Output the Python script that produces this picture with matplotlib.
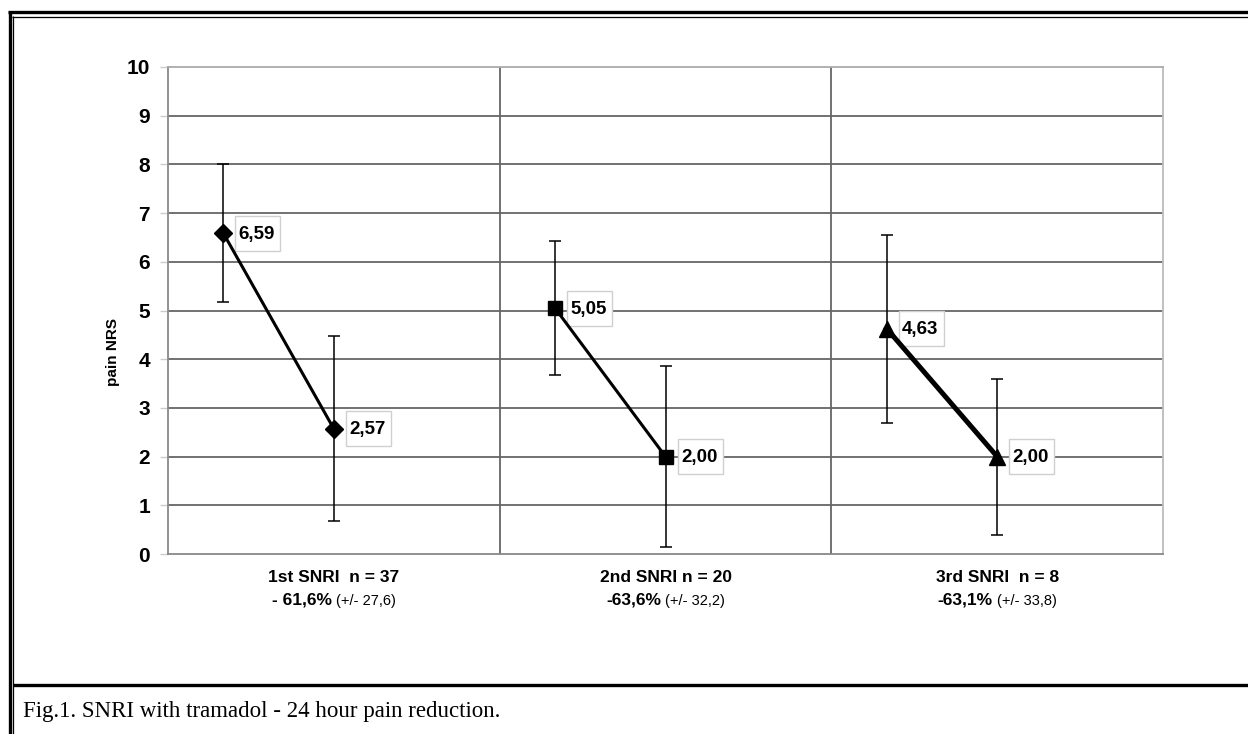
import matplotlib.pyplot as plt
import matplotlib.transforms as mtransforms
from matplotlib.patches import Rectangle
from matplotlib.lines import Line2D
from matplotlib.offsetbox import TextArea, HPacker, AnnotationBbox

# data
groups = ['1st SNRI  n = 37', '2nd SNRI n = 20', '3rd SNRI  n = 8']
reductions = ['- 61,6%', '-63,6%', '-63,1%']
reduction_sd = ['(+/- 27,6)', '(+/- 32,2)', '(+/- 33,8)']
before = [6.59, 5.05, 4.63]
after = [2.57, 2.00, 2.00]
before_err = [1.41, 1.37, 1.93]
after_err = [1.90, 1.86, 1.60]
value_labels_before = ['6,59', '5,05', '4,63']
value_labels_after = ['2,57', '2,00', '2,00']
markers = ['D', 's', '^']
marker_sizes = [8.7, 9.7, 12]
line_widths = [2.2, 2.2, 3.6]

sans = ['Liberation Sans', 'DejaVu Sans']
narrow = ['Liberation Sans Narrow', 'Liberation Sans', 'DejaVu Sans']

fig = plt.figure(figsize=(12.48, 7.34), dpi=100)
ax = fig.add_axes([168 / 1248, 1 - 554 / 734, (1163 - 168) / 1248, (554 - 67) / 734])

ax.set_xlim(0, 9)
ax.set_ylim(0, 10)
ax.set_yticks(range(0, 11))
ax.set_xticks([])
for y in range(1, 10):
    ax.axhline(y, color='#666666', lw=1.3, zorder=1)
for x in [3, 6]:
    ax.axvline(x, color='#666666', lw=1.3, zorder=1)
ax.spines['left'].set_color('#888888')
ax.spines['bottom'].set_color('#888888')
ax.spines['top'].set_color('#aaaaaa')
ax.spines['right'].set_color('#bbbbbb')
for s in ax.spines.values():
    s.set_linewidth(1.3)
ax.tick_params(axis='y', length=6, width=1, color='#cccccc', pad=7)
for lab in ax.get_yticklabels():
    lab.set_family(sans)
    lab.set_fontweight('bold')
    lab.set_fontsize(15)
ax.set_ylabel('pain NRS', family=sans, fontweight='bold', fontsize=11)
ax.yaxis.set_label_coords(-0.048, 0.415)


def value_box(x, y, text):
    trans = fig.dpi_scale_trans + mtransforms.ScaledTranslation(x, y, ax.transData)
    ax.add_patch(Rectangle((0.12, -0.175), 0.45, 0.35, transform=trans,
                           facecolor='white', edgecolor='#d0d0d0', lw=1, zorder=3,
                           clip_on=False))
    ax.text(0.155, -0.01, text, transform=trans, ha='left', va='center',
            family=sans, fontweight='bold', fontsize=13.5, zorder=4)


for i in range(3):
    xs = [3 * i + 0.5, 3 * i + 1.5]
    ys = [before[i], after[i]]
    ax.errorbar(xs, ys, yerr=[before_err[i], after_err[i]], fmt='none',
                ecolor='black', elinewidth=1.1, capsize=4, capthick=1.1, zorder=5)
    ax.plot(xs, ys, color='black', lw=line_widths[i], marker=markers[i],
            markersize=marker_sizes[i], markerfacecolor='black',
            markeredgecolor='black', zorder=6)
    value_box(xs[0], ys[0], value_labels_before[i])
    value_box(xs[1], ys[1], value_labels_after[i])

    # category labels below the axis
    ax.annotate(groups[i], xy=(3 * i + 1.5, 0), xycoords='data',
                xytext=(0, -23), textcoords='offset pixels', ha='center', va='center',
                family=narrow, fontweight='bold', fontsize=12.5, annotation_clip=False)
    pack = HPacker(children=[
        TextArea(reductions[i], textprops=dict(family=narrow, fontweight='bold', fontsize=12.5)),
        TextArea(reduction_sd[i], textprops=dict(family=narrow, fontsize=10.5)),
    ], align='baseline', pad=0, sep=3)
    ab = AnnotationBbox(pack, (3 * i + 1.5, 0), xycoords='data',
                        xybox=(0, -46), boxcoords='offset pixels',
                        box_alignment=(0.5, 0.5), frameon=False, annotation_clip=False)
    ax.add_artist(ab)

# page frame and caption
W, H = 1248, 734
def fline(x0, y0, x1, y1, lw):
    fig.add_artist(Line2D([x0 / W, x1 / W], [1 - y0 / H, 1 - y1 / H],
                          transform=fig.transFigure, color='black', lw=lw,
                          solid_capstyle='butt'))

fline(8, 12, W, 12, 2.4)
fline(12, 16.5, W, 16.5, 0.9)
fline(9.5, 10.5, 9.5, H, 2.4)
fline(13, 16, 13, H, 0.9)
fline(13, 684.5, W, 684.5, 2.4)

fig.text(23 / W, 1 - 712 / H, 'Fig.1. SNRI with tramadol - 24 hour pain reduction.',
         family=['Liberation Serif', 'DejaVu Serif'], fontsize=16.5, ha='left', va='center')

fig.savefig('out.png', dpi=100)
